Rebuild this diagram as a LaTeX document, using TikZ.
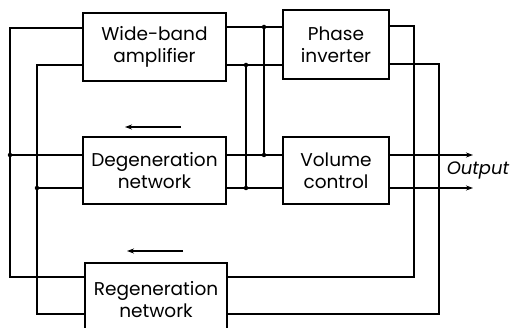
\documentclass[tikz,border=0pt]{standalone}
\usepackage{fontspec}
\setmainfont{Poppins}
\usetikzlibrary{arrows.meta}
\begin{document}
\begin{tikzpicture}[x=1pt,y=-1pt,line width=1.1pt,
  box/.style={draw,rectangle,align=center,inner sep=0pt,font=\fontsize{18.5}{22}\selectfont},
  dot/.style={circle,fill,inner sep=0pt,minimum size=4.5pt},
  flow/.style={-{Stealth[length=7pt,width=5pt]}}]
\useasboundingbox (0,0) rectangle (513,328);
% Blocks
\node[box,minimum width=143pt,minimum height=68pt] (amp) at (154.5,47) {Wide-band\\amplifier};
\node[box,minimum width=106pt,minimum height=69pt] (inv) at (336,44.5) {Phase\\inverter};
\node[box,minimum width=143pt,minimum height=67pt] (degen) at (154.5,170.5) {Degeneration\\network};
\node[box,minimum width=106pt,minimum height=67pt] (vol) at (336,170.5) {Volume\\control};
\node[box,minimum width=142pt,minimum height=74pt] (regen) at (156,300) {Regeneration\\network};
% Junctions
\coordinate (la) at (10,155);
\coordinate (lb) at (37,188);
\coordinate (ra) at (264,27);
\coordinate (rb) at (264,155);
\coordinate (rc) at (246,65);
\coordinate (rd) at (246,188);
\coordinate (fa) at (414,277);
\coordinate (fb) at (439,314);
\coordinate (oa) at (473,155);
\coordinate (ob) at (473,188);
% Left feedback rails
\draw (amp.west|-0,28) -| (la) |- (regen.west|-fa);
\draw (la) -- (degen.west|-la);
\draw (amp.west|-rc) -| (lb) |- (regen.west|-fb);
\draw (lb) -- (degen.west|-lb);
% Middle links
\draw (amp.east|-ra) -- (inv.west|-ra);
\draw (amp.east|-rc) -- (inv.west|-rc);
\draw (degen.east|-rb) -- (vol.west|-rb);
\draw (degen.east|-rd) -- (vol.west|-rd);
\draw (ra) -- (rb);
\draw (rc) -- (rd);
% Right feedback rails
\draw (inv.east|-0,26) -| (fa) -- (regen.east|-fa);
\draw (inv.east|-0,64) -| (fb) -- (regen.east|-fb);
% Output
\draw[flow] (vol.east|-oa) -- (oa);
\draw[flow] (vol.east|-ob) -- (ob);
\node[font=\fontsize{18}{20}\selectfont\itshape] (out) at (478,170) {Output};
% Dots
\foreach \p in {la,lb,ra,rb,rc,rd}
  \node[dot] at (\p) {};
% Direction arrows
\draw[flow] (181,127) -- (125,127);
\draw[flow] (183,251) -- (127,251);
\end{tikzpicture}
\end{document}
